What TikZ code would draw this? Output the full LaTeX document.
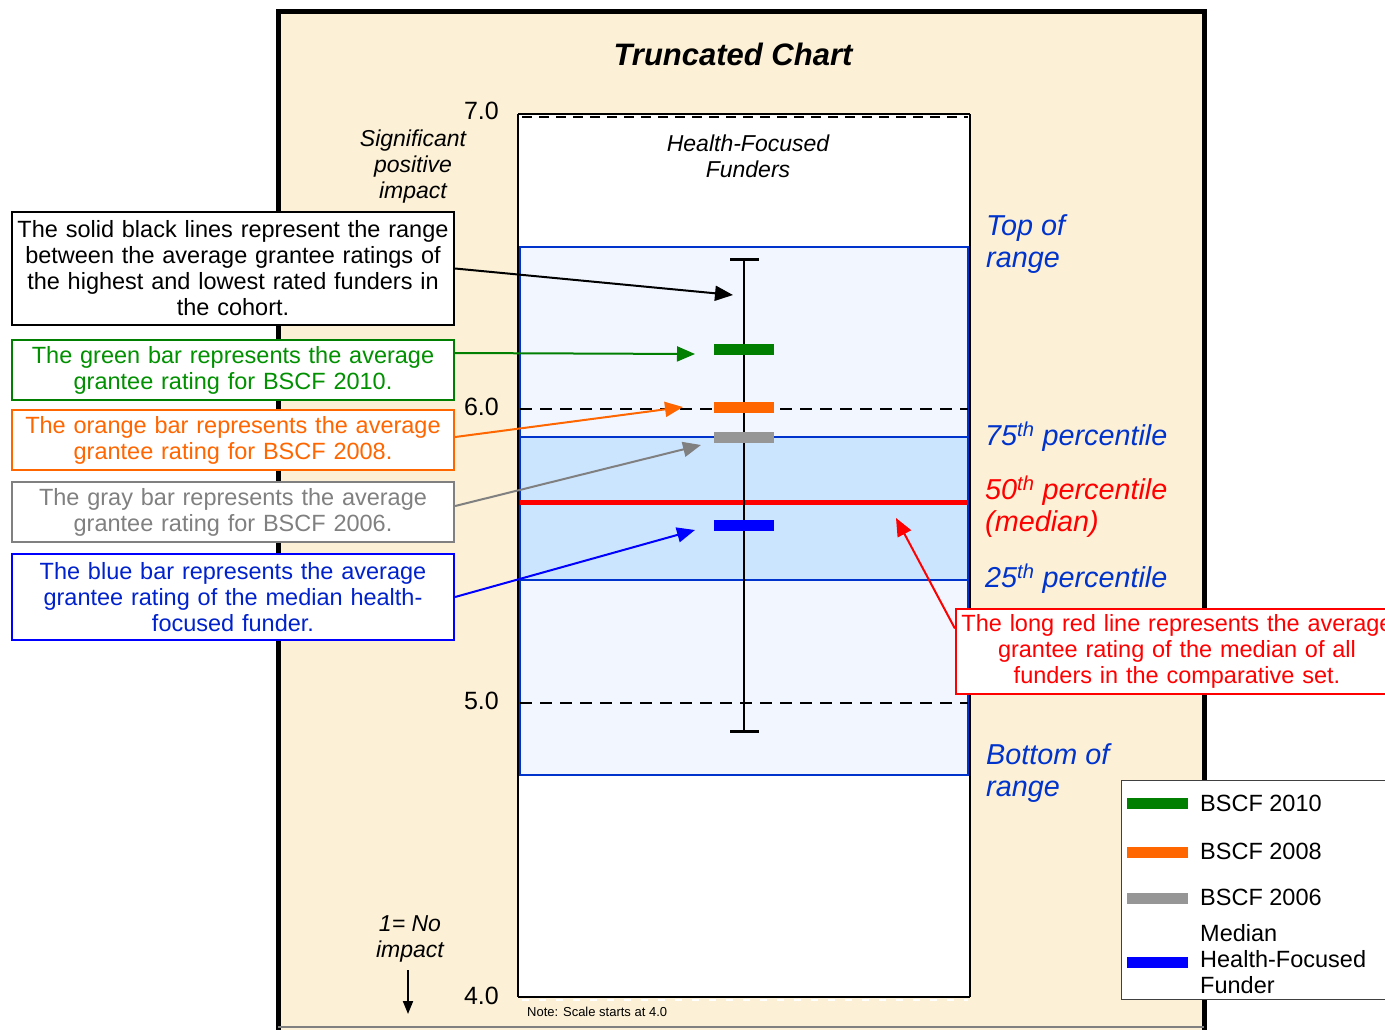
\documentclass[tikz,border=0pt]{standalone}
\usepackage{fontspec}
\setmainfont{Liberation Sans}
\usetikzlibrary{arrows.meta}
\definecolor{cream}{HTML}{FCF1D6}
\definecolor{bandlight}{HTML}{F2F7FF}
\definecolor{bandmid}{HTML}{CCE5FF}
\definecolor{bandline}{HTML}{0033CC}
\definecolor{labblue}{HTML}{0033CC}
\definecolor{txtgreen}{HTML}{009000}
\definecolor{bargreen}{HTML}{007F00}
\definecolor{txtorange}{HTML}{FF6600}
\definecolor{txtgray}{HTML}{808080}
\definecolor{bargray}{HTML}{969696}
\definecolor{txtblue}{HTML}{0022CC}
\definecolor{boxblue}{HTML}{0000FF}
\definecolor{legline}{HTML}{404040}
\begin{document}
\begin{tikzpicture}[x=1pt,y=-1pt,
  cbox/.style={draw, fill=white, line width=2.2pt, align=center, inner sep=0pt,
    minimum width=442pt, text width=438pt, font=\fontsize{23.5}{26}\selectfont},
  biglab/.style={anchor=west, align=left, inner sep=0pt, font=\fontsize{28.8}{32}\selectfont\itshape},
  axlab/.style={anchor=east, inner sep=0pt, font=\fontsize{25}{28}\selectfont},
  ital/.style={align=center, inner sep=0pt, font=\fontsize{23}{26}\selectfont\itshape},
  legtxt/.style={anchor=west, align=left, inner sep=0pt, font=\fontsize{23.5}{26}\selectfont},
  tip/.style={-{Triangle[length=18pt,width=15pt]}, line width=2pt}
]
\useasboundingbox (0,0) rectangle (1385,1029);
\fill[white] (0,0) rectangle (1385,1029);
% frame
\draw[line width=5pt, fill=cream] (278,11) rectangle (1204,1045);
\draw[gray, line width=1.5pt] (278,1027) -- (1204,1027);
% title
\node[font=\fontsize{31}{34}\selectfont\bfseries\itshape, inner sep=0pt] (title) at (733,54) {Truncated Chart};
% chart area
\fill[white] (519,114) rectangle (969,997);
\fill[bandlight] (520,247) rectangle (968,775);
\fill[bandmid] (520,437) rectangle (968,580);
\draw[bandline, line width=1.5pt] (520,247) rectangle (968,775);
\draw[bandline, line width=1.5pt] (520,437) -- (968,437);
\draw[bandline, line width=1.5pt] (520,580) -- (968,580);
\draw[line width=1.5pt] (518,114) -- (518,997);
\draw[line width=1.5pt] (970,114) -- (970,997);
\draw[line width=2pt] (518,114) -- (970,114);
\draw[line width=2pt, dash pattern=on 10pt off 7pt] (522,117) -- (968,117);
\draw[line width=2pt] (518,997) -- (970,997);
\draw[line width=2pt, white, dash pattern=on 7pt off 10pt] (522,999.5) -- (968,999.5);
\draw[line width=1.8pt, dash pattern=on 12pt off 8pt] (520,409) -- (968,409);
\draw[line width=1.8pt, dash pattern=on 12pt off 8pt] (520,703) -- (968,703);
% median line
\draw[red, line width=5pt] (520,502) -- (968,502);
% whisker
\draw[line width=1.5pt] (744,259) -- (744,731);
\draw[line width=3pt] (730,259) -- (759,259);
\draw[line width=3pt] (730,731) -- (759,731);
% bars
\fill[bargreen] (714,343.5) rectangle (774,354.5);
\fill[txtorange] (714,401.5) rectangle (774,412.5);
\fill[bargray] (714,431.5) rectangle (774,442.5);
\fill[boxblue] (714,519.5) rectangle (774,530.5);
% axis labels
\node[axlab] (l7) at (499,111) {7.0};
\node[axlab] (l6) at (499,407) {6.0};
\node[axlab] (l5) at (499,701) {5.0};
\node[axlab] (l4) at (499,996) {4.0};
\node[ital] (sig) at (413,167) {Significant\\positive\\impact};
\node[ital] (hf) at (748,156) {Health-Focused\\Funders};
\node[ital] (noimp) at (410,939) {1= No\\impact};
\coordinate (na) at (408,970);
\coordinate (nb) at (408,1014);
\draw[-{Triangle[length=13pt,width=10pt]}, line width=2pt] (na) -- (nb);
\node[anchor=west, inner sep=0pt, font=\fontsize{13}{15}\selectfont] (note) at (527,1012) {Note: Scale starts at 4.0};
% right labels
\node[biglab, text=labblue] (top) at (986,244) {Top of\\range};
\node[biglab, text=labblue] (p75) at (985,437) {75\textsuperscript{th} percentile};
\node[biglab, text=red] (p50) at (985,507) {50\textsuperscript{th} percentile\\(median)};
\node[biglab, text=labblue] (p25) at (985,579) {25\textsuperscript{th} percentile};
\node[biglab, text=labblue] (bot) at (986,773) {Bottom of\\range};
% explanation boxes
\node[cbox, minimum height=113pt] (bk) at (233,268.5) {The solid black lines represent the range\\between the average grantee ratings of\\the highest and lowest rated funders in\\the cohort.};
\node[cbox, draw=bargreen, text=txtgreen, minimum height=60pt] (gb) at (233,370) {The green bar represents the average\\grantee rating for BSCF 2010.};
\node[cbox, draw=txtorange, text=txtorange, minimum height=60pt] (ob) at (233,440) {The orange bar represents the average\\grantee rating for BSCF 2008.};
\node[cbox, draw=txtgray, text=txtgray, minimum height=60pt] (yb) at (233,512) {The gray bar represents the average\\grantee rating for BSCF 2006.};
\node[cbox, draw=boxblue, text=txtblue, minimum height=86pt] (bb) at (233,597) {The blue bar represents the average\\grantee rating of the median health-\\focused funder.};
\node[cbox, draw=red, text=red, minimum height=85pt] (rb) at (1177,651.5) {The long red line represents the average\\grantee rating of the median of all\\funders in the comparative set.};
% arrows
\coordinate (tk) at (733,295);
\coordinate (tg) at (695,354);
\coordinate (to) at (683,407);
\coordinate (ty) at (701,445);
\coordinate (tb) at (695,530);
\coordinate (tr) at (896,518);
\draw[tip] (bk.east) -- (tk);
\draw[tip, bargreen] ([yshift=17pt]gb.east) -- (tg);
\draw[tip, txtorange] ([yshift=3pt]ob.east) -- (to);
\draw[tip, txtgray] ([yshift=6pt]yb.east) -- (ty);
\draw[tip, boxblue] (bb.east) -- (tb);
\draw[tip, red] ([yshift=23pt]rb.west) -- (tr);
% legend
\node[draw=legline, line width=1.2pt, fill=white, minimum width=300pt, minimum height=219pt, anchor=north west, inner sep=0pt] (leg) at (1121,780) {};
\fill[bargreen] (1127,797.5) rectangle (1188,808.5);
\fill[txtorange] (1127,846.5) rectangle (1188,857.5);
\fill[bargray] (1127,892.5) rectangle (1188,903.5);
\fill[boxblue] (1127,957) rectangle (1188,968);
\node[legtxt] (lg1) at (1200,803) {BSCF 2010};
\node[legtxt] (lg2) at (1200,851) {BSCF 2008};
\node[legtxt] (lg3) at (1200,897) {BSCF 2006};
\node[legtxt] (lg4) at (1200,959) {Median\\Health-Focused\\Funder};
\end{tikzpicture}
\end{document}
